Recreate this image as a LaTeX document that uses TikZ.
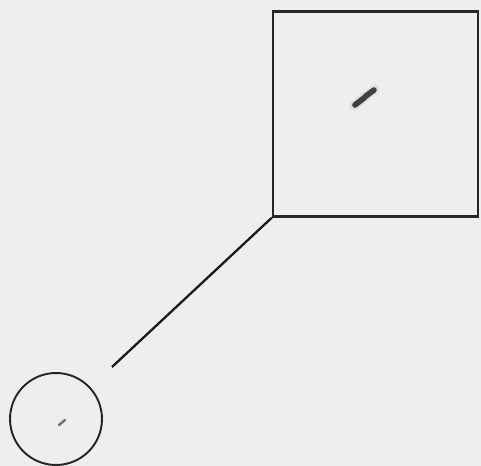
\documentclass[tikz,border=0pt]{standalone}
\usepackage{tikz}
\usetikzlibrary{calc}
\definecolor{bggrey}{RGB}{238,238,238}
\tikzset{
    inset/.style={rectangle, draw=black!85, line width=1.3pt, minimum size=4.1cm, inner sep=0pt},
    lens/.style={circle, draw=black!85, line width=1.1pt, minimum size=1.84cm, inner sep=0pt},
    link/.style={draw=black!90, line width=1.3pt},
    speck/.style={line cap=round, draw=black!70},
}
\begin{document}
\begin{tikzpicture}[x=0.02cm, y=-0.02cm]
        \fill[bggrey] (0,0) rectangle (481,466);
        \useasboundingbox (0,0) rectangle (481,466);
        % Nodes
        \node[inset] (zoom) at (375.5,114) {};
        \node[lens] (spot) at (56,419) {};
        \coordinate (tip) at (112,367);
        % Marks
        \draw[speck, line width=5.5pt, black!12] (354,106) -- (375,89);
        \draw[speck, line width=3.2pt, black!75] (355,105) -- (364,98) -- (366,96) -- (374,90);
        \draw[speck, line width=1.4pt, black!55] (59,425) -- (65,420);
        % Arrows
        \draw[link] (zoom.south west) -- (tip);
    \end{tikzpicture}
\end{document}
